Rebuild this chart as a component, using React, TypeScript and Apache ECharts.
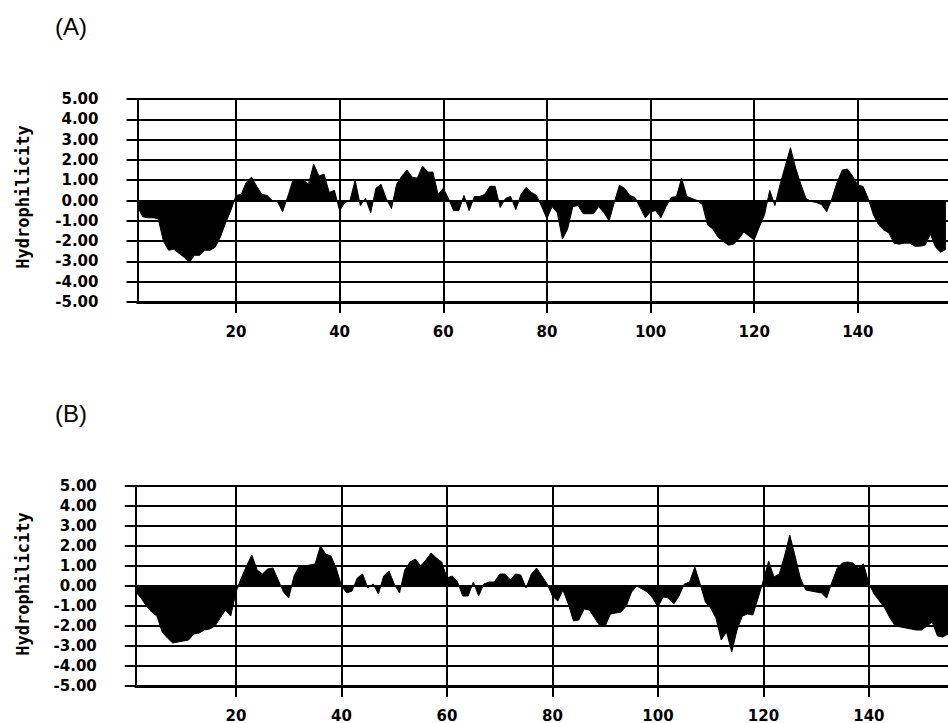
import React, { useEffect, useRef } from "react";
import * as echarts from "echarts";

// Hydrophilicity values per residue (panel A, residues 1..157)
const valuesA: number[] = [
  -0.3, -0.8, -0.85, -0.85, -0.9, -2.0, -2.45, -2.4, -2.6, -2.8,
  -3.05, -2.7, -2.7, -2.45, -2.45, -2.3, -1.8, -1.1, -0.5, 0.25,
  0.3, 0.9, 1.15, 0.7, 0.3, 0.25, 0.0, -0.05, -0.55, 0.2,
  1.0, 1.0, 1.0, 0.8, 1.8, 1.2, 1.3, 0.4, 0.5, -0.5,
  -0.1, 0.0, 1.0, -0.25, 0.1, -0.6, 0.6, 0.8, 0.1, -0.4,
  0.8, 1.2, 1.5, 1.15, 1.1, 1.7, 1.4, 1.4, 0.3, 0.6,
  0.1, -0.5, -0.5, 0.25, -0.5, 0.2, 0.2, 0.3, 0.7, 0.7,
  -0.35, 0.1, 0.2, -0.45, 0.3, 0.65, 0.4, 0.25, -0.3, -0.9,
  -0.3, -0.6, -1.9, -1.4, -0.3, -0.25, -0.65, -0.65, -0.65, -0.3,
  -0.6, -1.0, -0.1, 0.75, 0.6, 0.25, 0.15, -0.35, -0.85, -0.55,
  -0.5, -0.85, -0.3, 0.15, 0.2, 1.1, 0.2, 0.1, 0.0, -0.2,
  -1.2, -1.4, -1.8, -2.0, -2.2, -2.15, -1.9, -1.55, -1.75, -1.95,
  -1.3, -0.7, 0.5, -0.25, 0.8, 1.7, 2.6, 1.6, 0.8, 0.1,
  -0.05, -0.1, -0.2, -0.55, 0.1, 0.9, 1.5, 1.55, 1.2, 0.75,
  0.7, 0.1, -0.7, -1.2, -1.45, -1.6, -2.1, -2.15, -2.1, -2.1,
  -2.25, -2.25, -2.2, -1.65, -2.3, -2.55, -2.4,
];

// Hydrophilicity values per residue (panel B, residues 1..155)
const valuesB: number[] = [
  -0.3, -0.6, -1.0, -1.3, -1.5, -2.3, -2.6, -2.85, -2.8, -2.75,
  -2.7, -2.4, -2.35, -2.2, -2.15, -2.0, -1.6, -1.2, -1.5, -0.3,
  0.4, 1.0, 1.55, 0.8, 0.6, 0.85, 0.9, 0.3, -0.3, -0.6,
  0.5, 1.0, 1.0, 1.05, 1.1, 2.0, 1.6, 1.5, 0.9, 0.0,
  -0.35, -0.25, 0.4, 0.6, -0.1, 0.1, -0.4, 0.5, 0.75, 0.1,
  -0.35, 0.8, 1.2, 1.35, 1.0, 1.3, 1.65, 1.4, 1.2, 0.4,
  0.5, 0.2, -0.5, -0.5, 0.2, -0.5, 0.1, 0.2, 0.2, 0.6,
  0.6, 0.3, 0.6, 0.55, -0.1, 0.6, 0.9, 0.5, 0.1, -0.5,
  -0.75, -0.2, -0.9, -1.75, -1.7, -1.15, -1.2, -1.6, -2.0, -2.0,
  -1.4, -1.35, -1.3, -1.0, -0.3, 0.0, -0.15, -0.3, -0.6, -1.05,
  -0.55, -0.6, -0.9, -0.5, 0.1, 0.2, 0.95, 0.1, -0.8, -1.1,
  -1.6, -2.7, -2.3, -3.3, -2.2, -1.5, -1.4, -1.45, -0.6, 0.3,
  1.25, 0.45, 0.6, 1.5, 2.55, 1.5, 0.4, -0.2, -0.25, -0.3,
  -0.35, -0.6, 0.2, 0.9, 1.15, 1.2, 1.15, 0.9, 1.1, 0.1,
  -0.4, -0.75, -1.1, -1.6, -2.0, -2.05, -2.1, -2.15, -2.2, -2.2,
  -2.0, -1.8, -2.5, -2.55, -2.4,
];

const xTickValues: number[] = [20, 40, 60, 80, 100, 120, 140];
const panelLabels: string[] = ["(A)", "(B)"];
const yAxisTitle = "Hydrophilicity";

const BLACK = "#000";
const LABEL_FONT = "DejaVu Sans";

function makeXAxis(gridIndex: number, max: number) {
  return {
    type: "value",
    gridIndex,
    min: 1,
    max,
    axisLine: { show: true, onZero: false, lineStyle: { color: BLACK, width: 3 } },
    axisTick: {
      show: true,
      customValues: xTickValues,
      length: 11,
      inside: false,
      lineStyle: { color: BLACK, width: 2 },
    },
    axisLabel: {
      customValues: xTickValues,
      color: BLACK,
      fontFamily: LABEL_FONT,
      fontWeight: "bold",
      fontSize: 15,
      margin: 22,
    },
    splitLine: { show: true, lineStyle: { color: BLACK, width: 2 } },
  };
}

function makeYAxis(gridIndex: number) {
  return {
    type: "value",
    gridIndex,
    min: -5,
    max: 5,
    interval: 1,
    axisLine: { show: true, onZero: false, lineStyle: { color: BLACK, width: 2 } },
    axisTick: { show: true, length: 11, inside: false, lineStyle: { color: BLACK, width: 2 } },
    axisLabel: {
      formatter: (v: number) => v.toFixed(2),
      color: BLACK,
      fontFamily: LABEL_FONT,
      fontWeight: "bold",
      fontSize: 15,
      margin: 39,
    },
    splitLine: { show: true, lineStyle: { color: BLACK, width: 2 } },
  };
}

function makeSeries(values: number[], idx: number) {
  return {
    type: "line",
    xAxisIndex: idx,
    yAxisIndex: idx,
    data: values.map((v, i) => [i + 1, v]),
    symbol: "none",
    showSymbol: false,
    lineStyle: { color: BLACK, width: 1 },
    areaStyle: { color: BLACK, opacity: 1, origin: 0 },
    z: 3,
  };
}

export default function App() {
  const ref = useRef<HTMLDivElement>(null);

  useEffect(() => {
    if (!ref.current) return;
    const chart = echarts.init(ref.current, undefined, { renderer: "svg" });
    chart.setOption({
      animation: false,
      backgroundColor: "#fff",
      grid: [
        { left: 137.5, top: 99, right: 0, height: 203, containLabel: false },
        { left: 135.8, top: 486, right: 0, height: 203, containLabel: false },
      ],
      xAxis: [makeXAxis(0, 157.4), makeXAxis(1, 155)],
      yAxis: [makeYAxis(0), makeYAxis(1)],
      series: [makeSeries(valuesA, 0), makeSeries(valuesB, 1)],
      graphic: [
        {
          type: "text",
          left: 55,
          top: 14,
          style: { text: panelLabels[0], font: '24px "Liberation Sans", Arial', fill: BLACK },
        },
        {
          type: "text",
          left: 55,
          top: 401,
          style: { text: panelLabels[1], font: '24px "Liberation Sans", Arial', fill: BLACK },
        },
        {
          type: "text",
          x: 23,
          y: 197,
          rotation: Math.PI / 2,
          style: {
            text: yAxisTitle,
            font: 'bold 17px "DejaVu Sans Mono"',
            fill: BLACK,
            align: "center",
            verticalAlign: "middle",
          },
        },
        {
          type: "text",
          x: 23,
          y: 584,
          rotation: Math.PI / 2,
          style: {
            text: yAxisTitle,
            font: 'bold 17px "DejaVu Sans Mono"',
            fill: BLACK,
            align: "center",
            verticalAlign: "middle",
          },
        },
      ],
    });
    return () => chart.dispose();
  }, []);

  return (
    <div
      ref={ref}
      style={{ position: "absolute", left: 0, top: 0, width: 948, height: 723, background: "#fff" }}
    />
  );
}
